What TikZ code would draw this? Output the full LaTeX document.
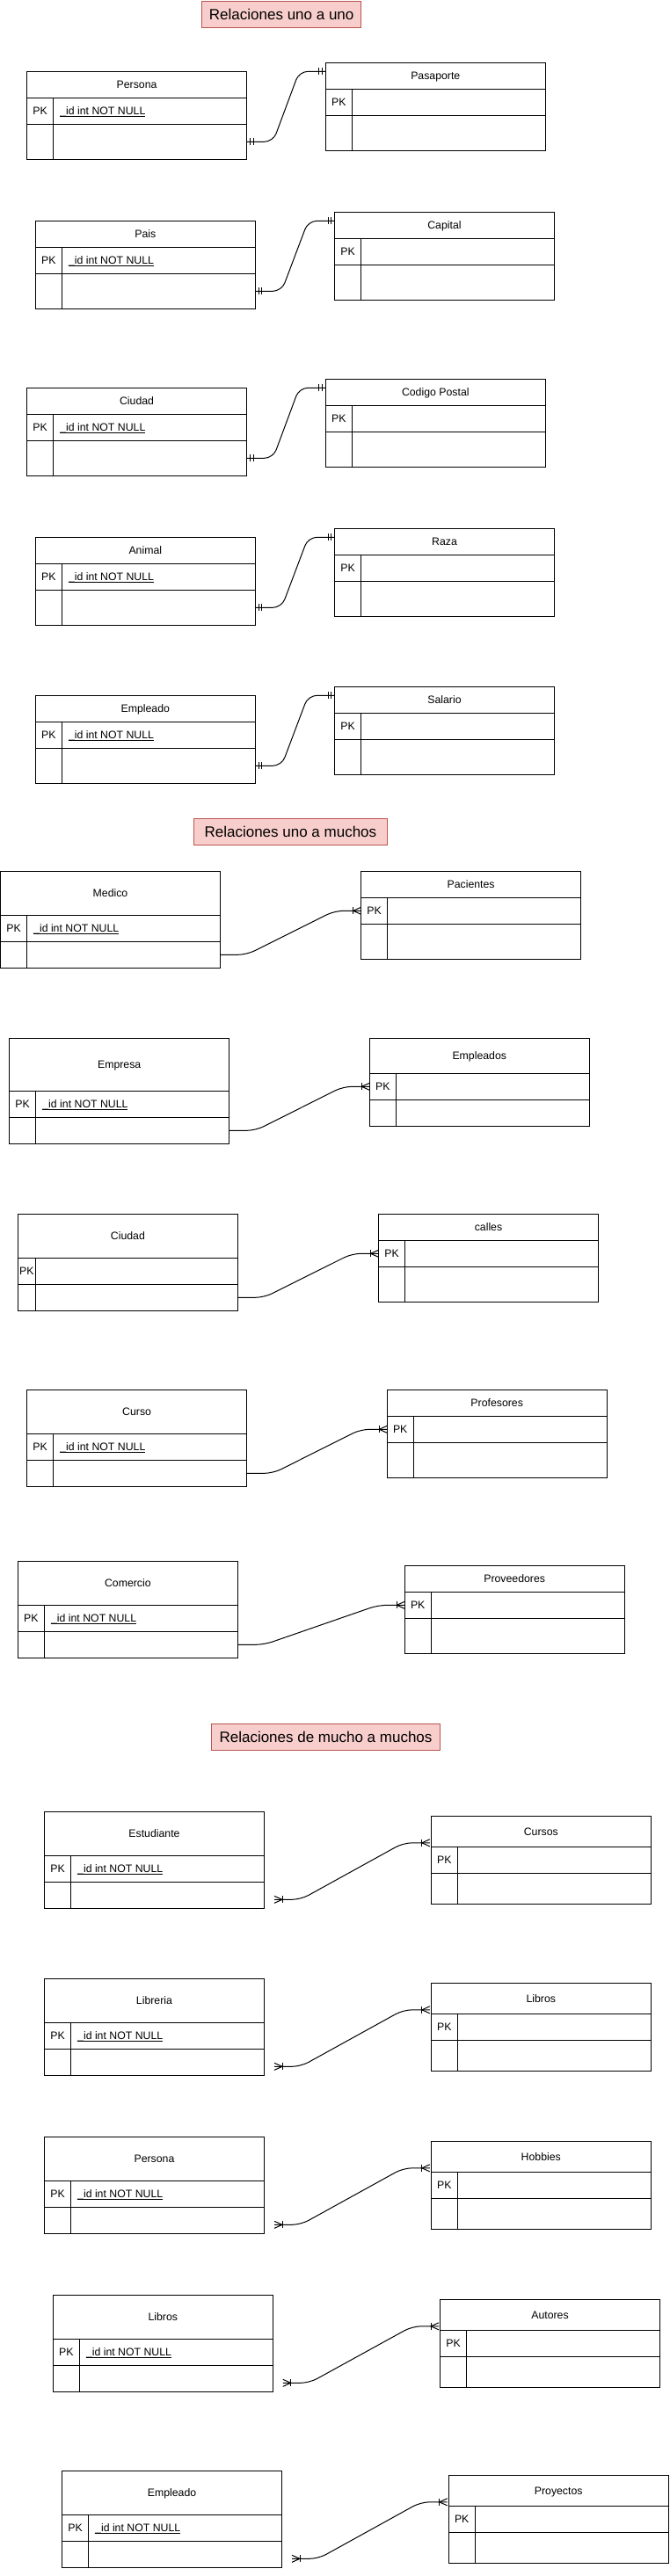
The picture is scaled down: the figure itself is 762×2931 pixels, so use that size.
\documentclass[tikz,border=0pt]{standalone}
\usepackage{fontspec}
\setmainfont{Liberation Sans}
\usetikzlibrary{calc}
\definecolor{titlefill}{HTML}{F8CECC}
\definecolor{titledraw}{HTML}{B85450}
\newcommand\erCellFont{\fontsize{12.3}{14}\selectfont}
\newcommand\erTitleFont{\fontsize{17}{20}\selectfont}
\tikzset{
  cell/.style={draw=black, line width=1pt, minimum width=250pt, inner sep=0pt, outer sep=0pt, anchor=north west, font=\erCellFont, text height=8.8pt, text depth=0pt},
  lbl/.style={font=\erCellFont, inner sep=0pt, outer sep=0pt, text height=8.8pt, text depth=0pt},
  fieldtxt/.style={font=\erCellFont, inner sep=0pt, outer sep=0pt, anchor=base west},
  conn/.style={draw=black, line width=1pt, rounded corners=10pt},
  ermark/.style={draw=black, line width=1pt},
  titlebox/.style={draw=titledraw, fill=titlefill, line width=1pt, anchor=north west, minimum height=30pt, inner sep=0pt, outer sep=0pt, font=\erTitleFont, text height=12.2pt, text depth=0pt},
}
% #1 name, #2 x, #3 y, #4 pk width, #5 #6 #7 row heights, #8 title, #9 field
\newcommand\ertable[9]{%
  \node[cell, minimum height=#5pt] (#1-h) at (#2,#3) {#8};
  \node[cell, minimum height=#6pt] (#1-pk) at (#1-h.south west) {};
  \node[cell, minimum height=#7pt] (#1-r) at (#1-pk.south west) {};
  \draw[line width=1pt] ($(#1-pk.north west)+(#4,0)$) -- ($(#1-r.south west)+(#4,0)$);
  \node[lbl] (#1-pkl) at ($(#1-pk.west)+({#4/2},0)$) {PK};
  \def\ertmp{#9}\ifx\ertmp\empty\else
    \node[fieldtxt] (#1-f) at ($(#1-pk.west)+({#4+7.7},4.4)$) {#9};
    \draw[line width=0.9pt] ([yshift=-1.5pt]#1-f.base west) -- ([yshift=-1.5pt]#1-f.base east);
  \fi
}
\newcommand\mkone[2]{%
  \draw[ermark] ($(#1)+({4*#2},-4)$) -- ($(#1)+({4*#2},4)$);
  \draw[ermark] ($(#1)+({7.5*#2},-4)$) -- ($(#1)+({7.5*#2},4)$);
}
\newcommand\mkmany[2]{%
  \draw[ermark] ($(#1)+(0,-4)$) -- ($(#1)+({9*#2},0)$) -- ($(#1)+(0,4)$);
  \draw[ermark] ($(#1)+({9*#2},-4)$) -- ($(#1)+({9*#2},4)$);
}
\newcommand\oneone[2]{%
  \coordinate (#1-s) at (#1-r.east);
  \coordinate (#2-t) at ([yshift=5pt]#2-h.west);
  \draw[conn] (#1-s) -- ++(30,0) -- ($(#2-t)+(-30,0)$) -- (#2-t);
  \mkone{#1-s}{1}\mkone{#2-t}{-1}
}
\newcommand\onemany[2]{%
  \coordinate (#1-s) at (#1-r.east);
  \coordinate (#2-t) at (#2-pk.west);
  \draw[conn] (#1-s) -- ++(30,0) -- ($(#2-t)+(-30,0)$) -- (#2-t);
  \mkmany{#2-t}{-1}
}
\newcommand\manymany[2]{%
  \coordinate (#1-s) at ([xshift=11.5pt,yshift=-5pt]#1-r.east);
  \coordinate (#2-t) at ([xshift=-1.5pt,yshift=-13pt]#2-h.west);
  \draw[conn] (#1-s) -- ++(30,0) -- ($(#2-t)+(-30,0)$) -- (#2-t);
  \mkmany{#1-s}{1}\mkmany{#2-t}{-1}
}
\begin{document}
\begin{tikzpicture}[x=1pt,y=-1pt]
\fill[white] (0,0) rectangle (762,2931);
\useasboundingbox (0,0) rectangle (762,2931);
\def\fld{\_id int NOT NULL}
% ---------- uno a uno ----------
\node[titlebox, minimum width=180.8pt] (t1) at (229.8,1) {Relaciones uno a uno};
\ertable{persona}{30.6}{81.3}{30}{30}{30}{40}{Persona}{\fld}
\ertable{pasaporte}{370.3}{71.3}{30}{30}{30}{40}{Pasaporte}{}
\oneone{persona}{pasaporte}
\ertable{pais}{40.3}{251.3}{30}{30}{30}{40}{Pais}{\fld}
\ertable{capital}{380.5}{241.3}{30}{30}{30}{40}{Capital}{}
\oneone{pais}{capital}
\ertable{ciudad}{30.6}{441.3}{30}{30}{30}{40}{Ciudad}{\fld}
\ertable{codigo}{370.3}{431.3}{30}{30}{30}{40}{Codigo Postal}{}
\oneone{ciudad}{codigo}
\ertable{animal}{40.3}{611.3}{30}{30}{30}{40}{Animal}{\fld}
\ertable{raza}{380.5}{601.3}{30}{30}{30}{40}{Raza}{}
\oneone{animal}{raza}
\ertable{empleado}{40.3}{791.3}{30}{30}{30}{40}{Empleado}{\fld}
\ertable{salario}{380.5}{781.3}{30}{30}{30}{40}{Salario}{}
\oneone{empleado}{salario}
% ---------- uno a muchos ----------
\node[titlebox, minimum width=219.6pt] (t2) at (220.6,931.3) {Relaciones uno a muchos};
\ertable{medico}{0.5}{991.3}{30}{50}{30}{30}{Medico}{\fld}
\ertable{pacientes}{410.6}{991.3}{30}{30}{30}{40}{Pacientes}{}
\onemany{medico}{pacientes}
\ertable{empresa}{10.7}{1181.3}{30}{60}{30}{30}{Empresa}{\fld}
\ertable{empleados}{420.3}{1181.3}{30}{40}{30}{30}{Empleados}{}
\onemany{empresa}{empleados}
\ertable{ciudadb}{20.4}{1381.3}{20}{50}{30}{30}{Ciudad}{}
\ertable{calles}{430.5}{1381.3}{30}{30}{30}{40}{calles}{}
\onemany{ciudadb}{calles}
\ertable{curso}{30.6}{1581.3}{30}{50}{30}{30}{Curso}{\fld}
\ertable{profesores}{440.2}{1581.3}{30}{30}{30}{40}{Profesores}{}
\onemany{curso}{profesores}
\ertable{comercio}{20.4}{1776.3}{30}{50}{30}{30}{Comercio}{\fld}
\ertable{proveedores}{460.2}{1781.3}{30}{30}{30}{40}{Proveedores}{}
\onemany{comercio}{proveedores}
% ---------- muchos a muchos ----------
\node[titlebox, minimum width=260pt] (t3) at (240.5,1961.3) {Relaciones de mucho a muchos};
\ertable{estudiante}{50.5}{2061.3}{30}{50}{30}{30}{Estudiante}{\fld}
\ertable{cursos}{490.3}{2066.3}{30}{35}{30}{35}{Cursos}{}
\manymany{estudiante}{cursos}
\ertable{libreria}{50.5}{2251.3}{30}{50}{30}{30}{Libreria}{\fld}
\ertable{libros}{490.3}{2256.3}{30}{35}{30}{35}{Libros}{}
\manymany{libreria}{libros}
\ertable{personab}{50.5}{2431.3}{30}{50}{30}{30}{Persona}{\fld}
\ertable{hobbies}{490.3}{2436.3}{30}{35}{30}{35}{Hobbies}{}
\manymany{personab}{hobbies}
\ertable{librosb}{60.3}{2611.3}{30}{50}{30}{30}{Libros}{\fld}
\ertable{autores}{500.5}{2616.3}{30}{35}{30}{35}{Autores}{}
\manymany{librosb}{autores}
\ertable{empleadob}{70.5}{2811.3}{30}{50}{30}{30}{Empleado}{\fld}
\ertable{proyectos}{510.2}{2816.3}{30}{35}{30}{35}{Proyectos}{}
\manymany{empleadob}{proyectos}
\end{tikzpicture}
\end{document}
